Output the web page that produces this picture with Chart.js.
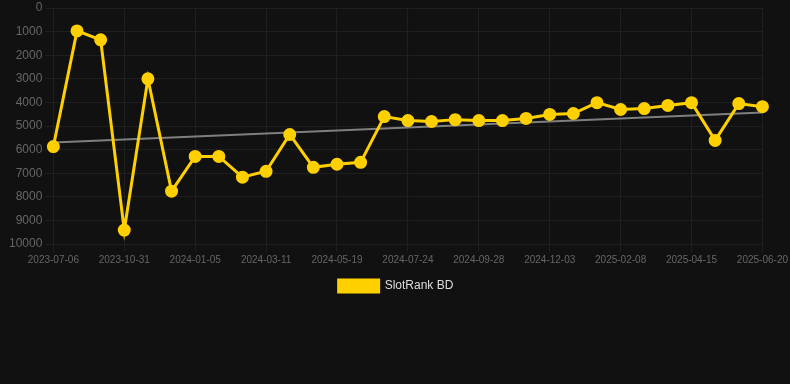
<!DOCTYPE html>
<html>
<head>
<meta charset="utf-8">
<script src="https://cdn.jsdelivr.net/npm/chart.js@4"></script>
<style>
  html, body { margin: 0; padding: 0; background: #111111; }
  #wrap { width: 790px; height: 302px; }
</style>
</head>
<body>
<div id="wrap"><canvas id="rankChart"></canvas></div>
<script>
// dates (one per point, every 3rd shown on the axis)
const dates = [
  '2023-07-06', '2023-08-14', '2023-09-22', '2023-10-31', '2023-11-22', '2023-12-14',
  '2024-01-05', '2024-01-27', '2024-02-18', '2024-03-11', '2024-04-03', '2024-04-26',
  '2024-05-19', '2024-06-10', '2024-07-02', '2024-07-24', '2024-08-15', '2024-09-06',
  '2024-09-28', '2024-10-20', '2024-11-11', '2024-12-03', '2024-12-25', '2025-01-17',
  '2025-02-08', '2025-03-02', '2025-03-24', '2025-04-15', '2025-05-07', '2025-05-29',
  '2025-06-20'
];

// SlotRank BD positions
const rankValues = [
  5870, 970, 1350, 9410, 3000, 7760,
  6290, 6290, 7170, 6920, 5360, 6750,
  6620, 6540, 4600, 4770, 4810, 4730,
  4770, 4770, 4680, 4510, 4470, 4010,
  4300, 4260, 4130, 4010, 5610, 4050,
  4180
];

// trend line start / end
const trendEnds = [5700, 4430];

const yTicks = { min: 0, max: 10000, step: 1000 };

function buildTrend() {
  const arr = dates.map(() => null);
  arr[0] = trendEnds[0];
  arr[arr.length - 1] = trendEnds[1];
  return arr;
}

function createRankChart() {
  const ctx = document.getElementById('rankChart').getContext('2d');
  Chart.defaults.font.family = 'Arial, "Liberation Sans", Helvetica, sans-serif';

  return new Chart(ctx, {
    type: 'line',
    data: {
      labels: dates,
      datasets: [{
        label: 'SlotRank BD',
        data: rankValues,
        borderColor: '#FFD000',
        backgroundColor: '#FFD000',
        borderWidth: 3,
        pointRadius: 5,
        pointHoverRadius: 5,
        tension: 0
      }, {
        label: 'trend',
        data: buildTrend(),
        spanGaps: true,
        borderColor: 'rgba(140,140,140,0.9)',
        borderWidth: 2,
        pointRadius: 0,
        tension: 0
      }]
    },
    options: {
      responsive: true,
      maintainAspectRatio: false,
      animation: false,
      layout: { padding: { left: 6, right: 4 } },
      scales: {
        x: {
          grid: { color: '#1f1f1f', tickColor: '#1f1f1f' },
          border: { color: '#1f1f1f' },
          ticks: {
            autoSkip: false,
            maxRotation: 0,
            padding: 2,
            color: '#666666',
            font: { size: 10 },
            callback: (v, i) => (i % 3 === 0 ? dates[i] : null)
          }
        },
        y: {
          reverse: true,
          min: yTicks.min,
          max: yTicks.max,
          grid: { color: '#1f1f1f', tickColor: '#1f1f1f' },
          border: { color: '#1f1f1f' },
          ticks: {
            stepSize: yTicks.step,
            color: '#666666',
            font: { size: 12, lineHeight: 0.6 },
            callback: v => String(v)
          }
        }
      },
      plugins: {
        legend: {
          position: 'bottom',
          labels: {
            color: '#dddddd',
            boxWidth: 40,
            boxHeight: 12,
            padding: 12,
            font: { size: 12 },
            filter: item => item.text !== 'trend'
          }
        },
        tooltip: { enabled: false }
      }
    }
  });
}

document.addEventListener('DOMContentLoaded', createRankChart);
</script>
</body>
</html>
